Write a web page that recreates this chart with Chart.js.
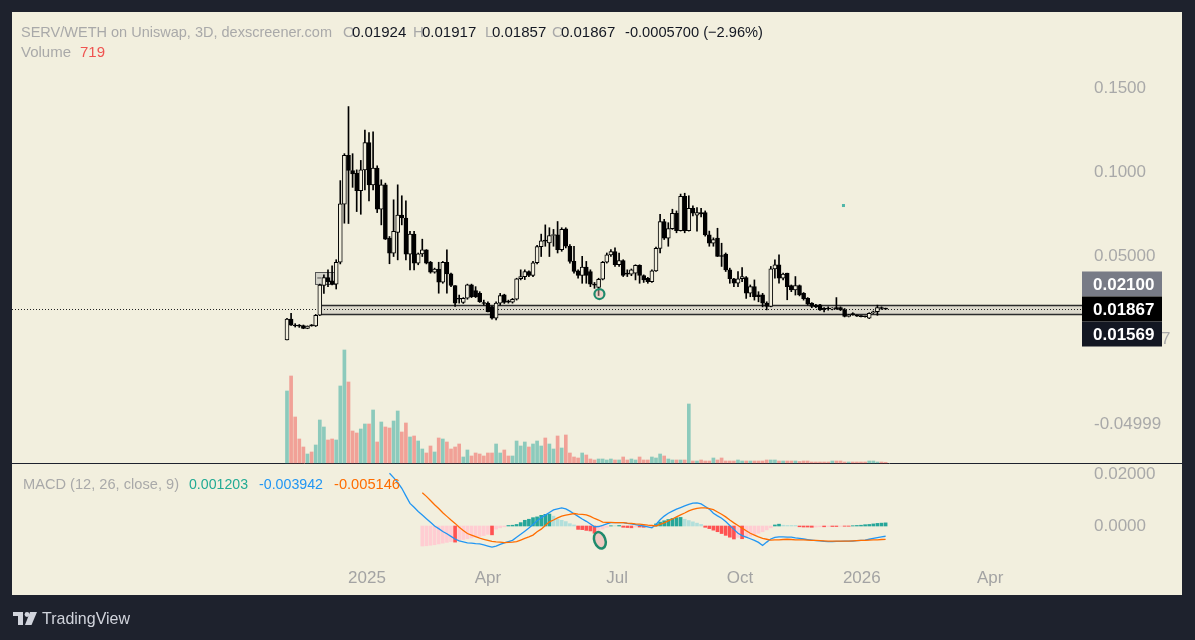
<!DOCTYPE html>
<html><head><meta charset="utf-8">
<script src="https://cdn.jsdelivr.net/npm/chart.js@4.4.1/dist/chart.umd.min.js"></script>
<style>html,body{margin:0;padding:0;background:#1e222d;overflow:hidden}canvas{display:block}</style>
</head><body>
<canvas id="c" width="1195" height="640"></canvas>
<script>
// ---------- DATA ----------
const open = [0.0004,0.0127,0.0091,0.0087,0.0089,0.0072,0.0092,0.0087,0.0150,0.0327,
0.0374,0.0355,0.0335,0.0465,0.0810,0.1100,0.1010,0.0994,0.0890,0.1014,
0.1176,0.0925,0.1024,0.0780,0.0925,0.0608,0.0519,0.0642,0.0745,0.0727,
0.0513,0.0632,0.0459,0.0515,0.0539,0.0465,0.0406,0.0424,0.0347,0.0465,
0.0396,0.0327,0.0251,0.0226,0.0251,0.0331,0.0297,0.0280,0.0224,0.0222,
0.0202,0.0133,0.0222,0.0271,0.0230,0.0228,0.0245,0.0367,0.0380,0.0410,
0.0386,0.0462,0.0558,0.0592,0.0580,0.0624,0.0628,0.0539,0.0664,0.0560,
0.0470,0.0414,0.0386,0.0436,0.0410,0.0331,0.0315,0.0364,0.0465,0.0509,
0.0529,0.0450,0.0475,0.0396,0.0394,0.0400,0.0446,0.0386,0.0370,0.0350,
0.0414,0.0547,0.0707,0.0608,0.0665,0.0755,0.0653,0.0856,0.0653,0.0786,
0.0745,0.0760,0.0760,0.0628,0.0578,0.0608,0.0505,0.0513,0.0420,0.0367,
0.0340,0.0367,0.0374,0.0281,0.0320,0.0271,0.0271,0.0222,0.0202,0.0426,
0.0450,0.0370,0.0400,0.0327,0.0301,0.0327,0.0281,0.0251,0.0222,0.0210,
0.0212,0.0186,0.0188,0.0186,0.0190,0.0196,0.0182,0.0143,0.0155,0.0150,
0.0146,0.0142,0.0133,0.0165,0.0172,0.0196,0.01924];
const high = [0.0132,0.0162,0.0100,0.0095,0.0092,0.0087,0.0095,0.0155,0.0335,0.0390,
0.0420,0.0444,0.0480,0.0950,0.1110,0.1390,0.1110,0.1014,0.1070,0.1250,
0.1236,0.1240,0.1038,0.0955,0.0935,0.0618,0.0836,0.0925,0.0860,0.0830,
0.0648,0.0648,0.0520,0.0602,0.0540,0.0470,0.0430,0.0465,0.0470,0.0539,
0.0400,0.0327,0.0270,0.0255,0.0335,0.0335,0.0320,0.0290,0.0240,0.0230,
0.0205,0.0230,0.0280,0.0275,0.0240,0.0250,0.0370,0.0420,0.0420,0.0414,
0.0470,0.0565,0.0632,0.0687,0.0670,0.0660,0.0707,0.0670,0.0670,0.0570,
0.0560,0.0420,0.0500,0.0470,0.0420,0.0345,0.0370,0.0470,0.0520,0.0540,
0.0550,0.0520,0.0480,0.0420,0.0425,0.0450,0.0450,0.0390,0.0375,0.0420,
0.0555,0.0749,0.0720,0.0700,0.0780,0.0770,0.0870,0.0875,0.0860,0.0800,
0.0790,0.0785,0.0770,0.0650,0.0610,0.0667,0.0578,0.0520,0.0430,0.0370,
0.0410,0.0434,0.0380,0.0330,0.0360,0.0290,0.0280,0.0230,0.0440,0.0480,
0.0509,0.0400,0.0400,0.0330,0.0380,0.0330,0.0285,0.0255,0.0225,0.0215,
0.0215,0.0195,0.0200,0.0195,0.0255,0.0200,0.0190,0.0155,0.0165,0.0152,
0.0148,0.0145,0.0165,0.0175,0.0210,0.0200,0.01924];
const low = [0.0004,0.0089,0.0080,0.0078,0.0070,0.0070,0.0085,0.0083,0.0148,0.0280,
0.0320,0.0330,0.0306,0.0455,0.0697,0.0695,0.0910,0.0766,0.0750,0.0895,
0.0830,0.0895,0.0760,0.0687,0.0600,0.0456,0.0499,0.0479,0.0687,0.0479,
0.0420,0.0420,0.0450,0.0499,0.0455,0.0400,0.0400,0.0281,0.0340,0.0281,
0.0320,0.0202,0.0222,0.0220,0.0245,0.0255,0.0255,0.0226,0.0210,0.0170,
0.0127,0.0123,0.0210,0.0220,0.0222,0.0222,0.0240,0.0360,0.0362,0.0380,
0.0380,0.0455,0.0499,0.0560,0.0499,0.0560,0.0520,0.0530,0.0550,0.0460,
0.0400,0.0370,0.0340,0.0340,0.0320,0.0310,0.0267,0.0360,0.0460,0.0500,
0.0440,0.0440,0.0380,0.0380,0.0385,0.0360,0.0340,0.0345,0.0340,0.0345,
0.0410,0.0520,0.0600,0.0560,0.0660,0.0640,0.0650,0.0640,0.0650,0.0740,
0.0650,0.0735,0.0620,0.0560,0.0560,0.0499,0.0440,0.0410,0.0340,0.0320,
0.0320,0.0350,0.0250,0.0260,0.0240,0.0230,0.0200,0.0182,0.0200,0.0370,
0.0340,0.0360,0.0242,0.0290,0.0270,0.0265,0.0240,0.0210,0.0195,0.0195,
0.0178,0.0170,0.0180,0.0182,0.0185,0.0178,0.0140,0.0140,0.0150,0.0143,
0.0140,0.0138,0.0130,0.0160,0.0150,0.0185,0.01857];
const close = [0.0127,0.0091,0.0086,0.0085,0.0072,0.0085,0.0087,0.0150,0.0329,0.0374,
0.0349,0.0335,0.0465,0.0812,0.1100,0.1010,0.0990,0.0890,0.1014,0.1176,
0.0925,0.1024,0.0780,0.0925,0.0602,0.0519,0.0648,0.0745,0.0729,0.0513,
0.0632,0.0459,0.0515,0.0539,0.0459,0.0406,0.0424,0.0347,0.0465,0.0396,
0.0327,0.0222,0.0245,0.0251,0.0331,0.0261,0.0261,0.0231,0.0220,0.0172,
0.0133,0.0222,0.0267,0.0226,0.0228,0.0245,0.0367,0.0380,0.0410,0.0386,
0.0462,0.0558,0.0592,0.0590,0.0624,0.0628,0.0539,0.0660,0.0560,0.0470,
0.0410,0.0386,0.0436,0.0386,0.0335,0.0329,0.0364,0.0465,0.0509,0.0529,
0.0450,0.0475,0.0386,0.0394,0.0420,0.0446,0.0386,0.0360,0.0350,0.0414,
0.0547,0.0707,0.0608,0.0665,0.0755,0.0653,0.0856,0.0653,0.0786,0.0756,
0.0760,0.0752,0.0628,0.0578,0.0600,0.0499,0.0499,0.0420,0.0368,0.0340,
0.0367,0.0380,0.0281,0.0320,0.0260,0.0260,0.0222,0.0202,0.0426,0.0450,
0.0370,0.0394,0.0320,0.0301,0.0327,0.0271,0.0248,0.0216,0.0202,0.0200,
0.0182,0.0185,0.0187,0.0190,0.0189,0.0182,0.0143,0.0150,0.0154,0.0145,
0.0142,0.0141,0.0162,0.0166,0.0196,0.0190,0.01867];
const volume = [72000,87000,46000,24000,16000,9000,11000,18000,43000,36000,
23000,24000,23000,77000,113000,81000,32000,30000,34000,39000,
39000,53000,21000,41000,36000,35000,42000,52000,31000,40000,
26000,27000,22000,14000,10000,17000,11000,25000,24000,21000,
14000,16000,19000,6000,13000,7000,10000,9000,7000,10000,
10000,19000,10000,13000,7000,7000,22000,17000,21000,16000,
19000,22000,17000,25000,19000,14000,27000,15000,28000,10000,
6000,5000,10000,8000,4000,3000,4000,4000,3000,4000,
3000,3000,6000,3000,4000,3000,6000,3000,3000,6000,
5000,9000,7000,4000,3000,3000,3000,3000,59000,2000,
2000,3000,2000,2000,5000,3000,5000,2000,2000,2000,
3000,2000,2000,2000,2000,2000,2000,3000,3000,3000,
2000,2000,2000,2000,2000,1500,2000,2000,1000,1000,
1000,1000,1000,2000,2000,2000,1000,1000,1000,1000,
1000,1000,2000,2000,1000,1000,719];

const macdStart = 25;
const macdLine = [0.0203,0.0186,0.0168,0.0145,0.0116,0.0087,0.0072,0.0056,0.0042,0.0028,
0.0014,0.0000,-0.0010,-0.0021,-0.0030,-0.0040,-0.0050,-0.0057,-0.0061,-0.0065,
-0.0066,-0.0068,-0.0069,-0.0073,-0.0077,-0.0081,-0.0077,-0.0071,-0.0065,-0.0060,
-0.0055,-0.0043,-0.0032,-0.0020,-0.0008,0.0006,0.0020,0.0032,0.0042,0.0052,
0.0062,0.0066,0.0070,0.0066,0.0057,0.0047,0.0037,0.0027,0.0018,0.0008,
-0.0003,-0.0002,0.0002,0.0008,0.0013,0.0013,0.0013,0.0013,0.0010,0.0008,
0.0005,0.0002,0.0000,-0.0003,-0.0007,0.0006,0.0024,0.0038,0.0049,0.0057,
0.0065,0.0071,0.0077,0.0083,0.0088,0.0089,0.0085,0.0075,0.0065,0.0049,
0.0039,0.0030,0.0017,0.0002,-0.0013,-0.0028,-0.0037,-0.0043,-0.0049,-0.0055,
-0.0063,-0.0075,-0.0062,-0.0050,-0.0044,-0.0042,-0.0042,-0.0043,-0.0043,-0.0046,
-0.0048,-0.0050,-0.0052,-0.0054,-0.0056,-0.0057,-0.0059,-0.0060,-0.0060,-0.0059,
-0.0059,-0.0058,-0.0058,-0.0058,-0.0056,-0.0055,-0.0054,-0.0051,-0.0048,-0.0045,
-0.0042,-0.003942];
const signalStart = 33;
const signalLine = [0.0128,0.0114,0.0098,0.0082,0.0067,0.0051,0.0037,0.0023,0.0010,-0.0005,
-0.0017,-0.0029,-0.0035,-0.0041,-0.0047,-0.0051,-0.0055,-0.0059,-0.0061,-0.0062,
-0.0064,-0.0063,-0.0062,-0.0060,-0.0054,-0.0048,-0.0042,-0.0035,-0.0022,-0.0012,
0.0002,0.0016,0.0023,0.0031,0.0038,0.0042,0.0045,0.0048,0.0046,0.0045,
0.0043,0.0037,0.0029,0.0023,0.0015,0.0014,0.0014,0.0013,0.0013,0.0013,
0.0011,0.0010,0.0008,0.0007,0.0005,0.0003,0.0002,0.0000,0.0006,0.0012,
0.0020,0.0027,0.0035,0.0043,0.0050,0.0058,0.0064,0.0068,0.0070,0.0070,
0.0067,0.0063,0.0054,0.0045,0.0035,0.0023,0.0012,0.0002,-0.0008,-0.0018,
-0.0028,-0.0035,-0.0042,-0.0048,-0.0051,-0.0054,-0.0053,-0.0053,-0.0052,-0.0051,
-0.0052,-0.0053,-0.0053,-0.0053,-0.0054,-0.0055,-0.0055,-0.0056,-0.0057,-0.0058,
-0.0058,-0.0058,-0.0058,-0.0058,-0.0058,-0.0057,-0.0056,-0.0055,-0.0055,-0.0054,
-0.00535,-0.0053,-0.0052,-0.005146];
const macdHist = [-0.0077,-0.0076,-0.0074,-0.0072,-0.0069,-0.0066,-0.0063,-0.0060,-0.0062,-0.0055,
-0.0052,-0.0049,-0.0046,-0.0043,-0.0040,-0.0037,-0.0032,-0.0034,-0.0012,-0.0007,
-0.0003,0.0002,0.0003,0.0006,0.0013,0.0022,0.0026,0.0032,0.0035,0.0041,
0.0045,0.0046,0.0038,0.0026,0.0022,0.0017,0.0009,0.0004,-0.0013,-0.0014,
-0.0017,-0.0019,-0.0028,-0.0020,-0.0012,-0.0005,0.0001,0.0001,0.0002,-0.0005,
-0.0006,-0.0007,-0.0004,-0.0004,-0.0005,-0.0003,-0.0002,0.0008,0.0015,0.0020,
0.0025,0.0029,0.0032,0.0033,0.0026,0.0021,0.0016,0.0011,0.0006,-0.0005,
-0.0010,-0.0016,-0.0022,-0.0029,-0.0036,-0.0043,-0.0050,-0.0044,-0.0049,-0.0044,
-0.0039,-0.0034,-0.0028,-0.0022,-0.0015,-0.0007,0.0004,0.0007,0.0003,0.0002,
0.0002,0.0002,-0.0003,-0.0004,-0.0004,-0.0005,-0.0004,-0.0003,-0.0003,-0.0002,
-0.0002,-0.0002,-0.0001,-0.0001,-0.0001,0.0001,0.0002,0.0003,0.0005,0.0006,
0.0008,0.0010,0.0011,0.001203];

const xTickPos = [19.5, 49.0, 80.5, 110.5, 140.2, 171.5];
const xTickLabels = ['2025','Apr','Jul','Oct','2026','Apr'];
const priceTicks = [0.15, 0.10, 0.05, -0.04999];
const priceTickLabels = ['0.1500','0.1000','0.05000','-0.04999'];
const macdTicks = [0.02, 0];
const macdTickLabels = ['0.02000','0.0000'];
const levelHigh = 0.021, levelLow = 0.01569, lastPrice = 0.01867;
const levelLabels = ['0.02100','0.01867','0.01569'];
const bandStart = 8.2;
const boxRange = {i0: 6.9, i1: 11.8, p0: 0.0407, p1: 0.0336};
const markPrice = {i: 76.2, p: 0.0276};
const markMacd = {i: 76.3, v: -0.0055};
const tealDot = {i: 135.6, p: 0.0805};

// ---------- STYLE ----------
const BG = '#f2efde', OUT = '#1e222d';
const FONT = '"Liberation Sans", Arial, sans-serif';
const UP_VOL = 'rgba(38,166,154,0.5)', DN_VOL = 'rgba(239,83,80,0.5)';

const idx = close.map((_, i) => i);
const isUp = i => close[i] >= open[i];
const histColors = macdHist.map((h, k) => {
  const p = k > 0 ? macdHist[k-1] : null;
  if (h >= 0) return (p === null || h > p) ? '#26a69a' : '#b2dfdb';
  return (p === null || h > p) ? '#ffcdd2' : '#ff5252';
});

const tvPlugin = {
  id: 'tv',
  beforeDraw(chart) {
    const c = chart.ctx;
    c.save();
    c.fillStyle = OUT; c.fillRect(0, 0, 1195, 640);
    c.fillStyle = BG; c.fillRect(12, 12, 1170, 583);
    c.restore();
  },
  beforeDatasetsDraw(chart) {
    const c = chart.ctx, x = chart.scales.x, y = chart.scales.y, a = chart.chartArea;
    c.save();
    c.strokeStyle = '#1e222d'; c.lineWidth = 1;
    c.beginPath(); c.moveTo(12, 463.5); c.lineTo(1182, 463.5); c.stroke();
    const x0 = Math.round(x.getPixelForValue(bandStart)) + 0.5;
    const yt = Math.round(y.getPixelForValue(levelHigh)) + 0.5;
    const yb = Math.round(y.getPixelForValue(levelLow)) + 0.5;
    c.fillStyle = 'rgba(140,140,140,0.22)';
    c.fillRect(x0, yt, a.right - x0, yb - yt);
    c.strokeStyle = '#2b2b2b'; c.lineWidth = 1.6;
    c.beginPath(); c.moveTo(x0, yt); c.lineTo(a.right, yt); c.moveTo(x0, yb); c.lineTo(a.right, yb); c.stroke();
    c.lineWidth = 1; c.beginPath(); c.moveTo(x0, yt); c.lineTo(x0, yb); c.stroke();
    const bx0 = x.getPixelForValue(boxRange.i0), bx1 = x.getPixelForValue(boxRange.i1);
    const by0 = y.getPixelForValue(boxRange.p0), by1 = y.getPixelForValue(boxRange.p1);
    c.fillStyle = 'rgba(120,123,134,0.25)'; c.fillRect(bx0, by0, bx1 - bx0, by1 - by0);
    c.strokeStyle = '#555'; c.lineWidth = 1; c.strokeRect(Math.round(bx0)+0.5, Math.round(by0)+0.5, bx1 - bx0, by1 - by0);
    c.beginPath(); c.moveTo(bx0 + 2, (by0 + by1) / 2); c.lineTo(bx0 + 6, (by0 + by1) / 2); c.stroke();
    const yl = Math.round(y.getPixelForValue(lastPrice)) + 0.5;
    c.strokeStyle = '#222'; c.setLineDash([1, 2]); c.lineWidth = 1;
    c.beginPath(); c.moveTo(a.left, yl); c.lineTo(a.right, yl); c.stroke();
    c.restore();
  },
  afterDatasetsDraw(chart) {
    const c = chart.ctx, x = chart.scales.x, y = chart.scales.y, ym = chart.scales.yMacd;
    c.save();
    c.strokeStyle = '#1f8a6c'; c.lineWidth = 2.2; c.fillStyle = 'rgba(240,180,175,0.45)';
    c.beginPath(); c.arc(x.getPixelForValue(markPrice.i), y.getPixelForValue(markPrice.p), 5, 0, Math.PI * 2); c.fill(); c.stroke();
    c.fillStyle = 'rgba(238,196,190,0.9)'; c.lineWidth = 2.5;
    c.beginPath(); c.ellipse(x.getPixelForValue(markMacd.i), ym.getPixelForValue(markMacd.v), 5.5, 8.5, -0.35, 0, Math.PI * 2); c.fill(); c.stroke();
    c.fillStyle = 'rgba(38,166,154,0.8)';
    c.fillRect(x.getPixelForValue(tealDot.i) - 1, y.getPixelForValue(tealDot.p) - 1, 3, 3);
    c.restore();
  },
  afterDraw(chart) {
    const c = chart.ctx, y = chart.scales.y, ym = chart.scales.yMacd;
    c.save();
    c.textBaseline = 'middle'; c.textAlign = 'left';
    c.font = '17px ' + FONT; c.fillStyle = '#a9a9a9';
    priceTicks.forEach((v, i) => c.fillText(priceTickLabels[i], 1094, y.getPixelForValue(v)));
    macdTicks.forEach((v, i) => c.fillText(macdTickLabels[i], 1094, ym.getPixelForValue(v)));
    c.fillText('-0.000007', 1094, y.getPixelForValue(0) - 1);
    const cy = Math.round(y.getPixelForValue(lastPrice));
    const boxes = [[cy - 25, '#787b86'], [cy, '#000000'], [cy + 25, '#131722']];
    c.font = 'bold 17px ' + FONT;
    boxes.forEach((b, i) => {
      c.fillStyle = b[1]; c.fillRect(1082, b[0] - 12.5, 80, 25);
      c.fillStyle = '#ffffff'; c.fillText(levelLabels[i], 1093, b[0] + 1);
    });
    const seg = (t, x, yy, col, mw) => { c.fillStyle = col; mw ? c.fillText(t, x, yy, mw) : c.fillText(t, x, yy); };
    c.font = '15px ' + FONT;
    const G = '#a9a9a9', K = '#131722';
    seg('SERV/WETH on Uniswap, 3D, dexscreener.com', 21, 33, G, 311);
    seg('O', 343, 33, G); seg('0.01924', 352, 33, K, 56);
    seg('H', 413, 33, G); seg('0.01917', 422, 33, K, 56);
    seg('L', 485, 33, G); seg('0.01857', 492, 33, K, 56);
    seg('C', 552, 33, G); seg('0.01867', 561, 33, K, 56);
    seg('-0.0005700 (\u22122.96%)', 625, 33, K, 138);
    seg('Volume', 21, 53, G, 52); seg('719', 80, 53, '#ef5350');
    seg('MACD (12, 26, close, 9)', 23, 485, G, 156);
    seg('0.001203', 189, 485, '#22ab94', 59);
    seg('-0.003942', 259, 485, '#2196f3', 64);
    seg('-0.005146', 334, 485, '#ff6d00', 66);
    c.fillStyle = '#d1d4dc';
    c.fillRect(13, 612, 10, 4); c.fillRect(18, 612, 5, 13);
    c.beginPath(); c.arc(27, 614.5, 2.4, 0, Math.PI * 2); c.fill();
    c.beginPath(); c.moveTo(30, 612); c.lineTo(37, 612); c.lineTo(31.5, 625); c.lineTo(25, 625); c.closePath(); c.fill();
    c.font = '17px ' + FONT;
    c.fillText('TradingView', 42, 619, 88);
    c.restore();
  }
};

Chart.defaults.font.family = FONT;

new Chart(document.getElementById('c'), {
  type: 'bar',
  data: {
    datasets: [
      { type: 'line', label: 'Signal', yAxisID: 'yMacd', order: 1,
        data: signalLine.map((v, k) => ({x: signalStart + k, y: v})),
        borderColor: '#ff6d00', borderWidth: 1.3, pointRadius: 0, tension: 0 },
      { type: 'line', label: 'MACD', yAxisID: 'yMacd', order: 2,
        data: macdLine.map((v, k) => ({x: macdStart + k, y: v})),
        borderColor: '#2196f3', borderWidth: 1.3, pointRadius: 0, tension: 0 },
      { label: 'Hist', yAxisID: 'yMacd', order: 3, grouped: false, barThickness: 3,
        data: macdHist.map((v, k) => ({x: signalStart + k, y: v})),
        backgroundColor: histColors, borderWidth: 0 },
      { label: 'Bodies', yAxisID: 'y', order: 4, grouped: false, barThickness: 4, minBarLength: 1,
        data: idx.map(i => ({x: i, y: [open[i], close[i]]})),
        backgroundColor: idx.map(i => isUp(i) ? BG : '#000000'),
        borderColor: '#000000', borderWidth: 1, borderSkipped: false },
      { label: 'Wicks', yAxisID: 'y', order: 5, grouped: false, barThickness: 1,
        data: idx.map(i => ({x: i, y: [low[i], high[i]]})),
        backgroundColor: '#000000', borderWidth: 0 },
      { label: 'Volume', yAxisID: 'yVol', order: 9, grouped: false, barThickness: 3,
        data: idx.map(i => ({x: i, y: volume[i]})),
        backgroundColor: idx.map(i => isUp(i) ? UP_VOL : DN_VOL), borderWidth: 0 }
    ]
  },
  options: {
    responsive: false, animation: false, events: [],
    layout: { padding: { left: 12, right: 113, top: 12, bottom: 45 } },
    plugins: { legend: { display: false }, tooltip: { enabled: false } },
    scales: {
      x: {
        type: 'linear', position: 'bottom', min: -67.07, max: 193.9, offset: false,
        grid: { display: false, drawTicks: false, offset: false }, border: { display: false },
        afterBuildTicks: s => { s.ticks = xTickPos.map(v => ({ value: v })); },
        afterFit: s => { s.height = 33; },
        ticks: { autoSkip: false, maxRotation: 0, padding: 6, color: '#a3a3a3',
                 font: { family: FONT, size: 17 }, callback: (v, i) => xTickLabels[i] }
      },
      y: { type: 'linear', display: false, min: -0.13161, max: 0.195187 },
      yVol: { type: 'linear', display: false, min: -99000, max: 451000 },
      yMacd: { type: 'linear', display: false, min: -0.0138462, max: 0.197692 }
    }
  },
  plugins: [tvPlugin]
});
</script>
</body></html>
